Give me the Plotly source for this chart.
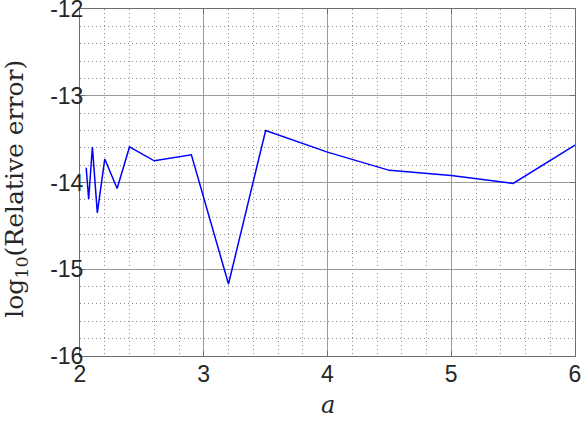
import plotly.graph_objects as go

# values
a_vals = [2.05, 2.07, 2.10, 2.14, 2.20, 2.30, 2.40, 2.60, 2.90, 3.20, 3.50, 4.00, 4.50, 5.00, 5.50, 6.00]
log_err = [-13.83, -14.19, -13.59, -14.35, -13.73, -14.07, -13.59, -13.75, -13.68, -15.17,
           -13.40, -13.65, -13.86, -13.92, -14.01, -13.57]

x_ticks = [2, 3, 4, 5, 6]
y_ticks = [-16, -15, -14, -13, -12]
y_tick_text = ['-16', '-15', '-14', '-13', '-12']

fig = go.Figure()
fig.add_trace(go.Scatter(x = a_vals, y = log_err, mode = 'lines', line = dict(color = '#0000ff', width = 1.5),
    showlegend = False))

axis_style = dict(showline = True, linewidth = 1, linecolor = '#6e6e6e', mirror = 'ticks', ticks = 'inside',
    ticklen = 5, tickcolor = '#6e6e6e', zeroline = False, showgrid = True, gridcolor = '#9a9a9a', gridwidth = 1,
    automargin = False, ticklabeloverflow = 'allow',
    tickfont = dict(family = 'Liberation Sans, Arial, sans-serif', size = 23, color = '#262626'))
minor_style = dict(dtick = 0.2, showgrid = True, griddash = '1px,3px', gridcolor = '#8e8e8e', gridwidth = 1, ticks = '')

fig.update_xaxes(range = [2, 6], tickvals = x_ticks, ticktext = [str(v) for v in x_ticks],
    minor = minor_style, ticklabelstandoff = -3, **axis_style)
fig.update_yaxes(range = [-16, -12], tickvals = y_ticks, ticktext = y_tick_text,
    minor = minor_style, ticklabelstandoff = -9, **axis_style)

# axis titles placed as annotations
fig.add_annotation(text = '<i>a</i>', xref = 'paper', yref = 'paper', x = 0.5, y = -0.141,
    xanchor = 'center', yanchor = 'middle', showarrow = False,
    font = dict(family = 'DejaVu Serif, serif', size = 24, color = '#262626'))
fig.add_annotation(text = 'log<sub>10</sub>(Relative error)', xref = 'paper', yref = 'paper', x = -0.13, y = 0.481,
    xanchor = 'center', yanchor = 'middle', textangle = -90, showarrow = False,
    font = dict(family = 'DejaVu Serif, serif', size = 25, color = '#262626'))

fig.update_layout(width = 581, height = 421, autosize = False, plot_bgcolor = '#ffffff', paper_bgcolor = '#ffffff',
    margin = dict(l = 80, r = 6, t = 9, b = 65, autoexpand = False))

# drop the default page margin so the figure sits at the window corner
fig.write_html("out.html", config = dict(displayModeBar = False), post_script = "document.body.style.margin = '0';")
